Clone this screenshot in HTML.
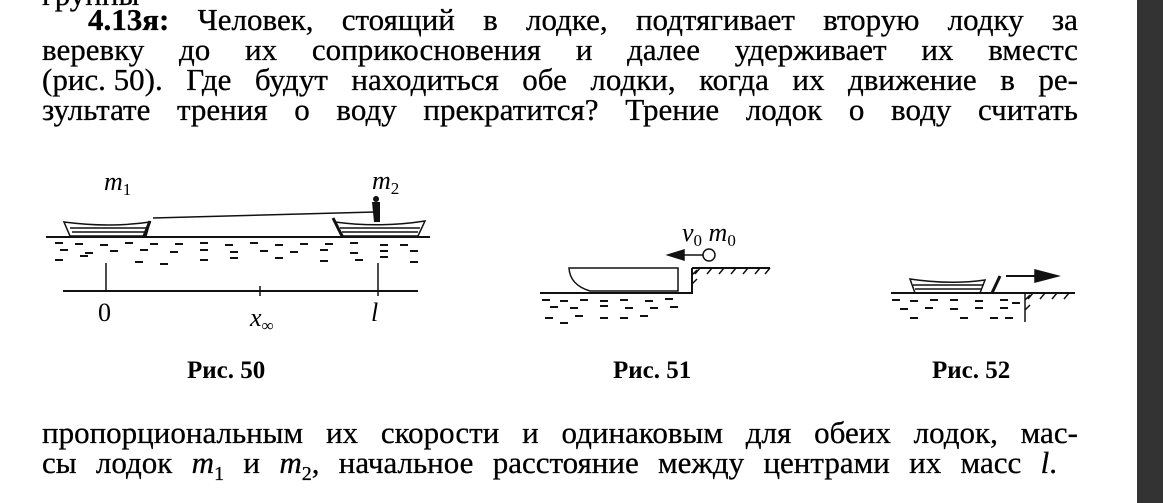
<!DOCTYPE html>
<html><head><meta charset="utf-8"><style>
body{margin:0;width:1163px;height:503px;background:#fff;position:relative;overflow:hidden;font-family:"Liberation Serif","DejaVu Serif",serif;color:#000}
.dark{position:absolute;left:1137px;top:0;width:26px;height:503px;background:#333}
.l{position:absolute;left:42px;width:1036px;font-size:31px;line-height:30px;white-space:nowrap;-webkit-text-stroke:0.3px #000}
.l span.j{display:flex;justify-content:space-between}
.cap{position:absolute;font-weight:bold;font-size:25px;font-family:"Liberation Serif",serif}
i{font-style:italic}
</style></head><body>
<div class="dark"></div>
<div class="l" style="top:-20px;left:42px;width:100px">группы</div>
<div class="l" style="top:5px;left:88px;width:990px"><span class="j"><b>4.13я:</b><span>Человек,</span><span>стоящий</span><span>в</span><span>лодке,</span><span>подтягивает</span><span>вторую</span><span>лодку</span><span>за</span></span></div>
<div class="l" style="top:35px"><span class="j"><span>веревку</span><span>до</span><span>их</span><span>соприкосновения</span><span>и</span><span>далее</span><span>удерживает</span><span>их</span><span>вместс</span></span></div>
<div class="l" style="top:65px"><span class="j"><span>(рис. 50).</span><span>Где</span><span>будут</span><span>находиться</span><span>обе</span><span>лодки,</span><span>когда</span><span>их</span><span>движение</span><span>в</span><span>ре-</span></span></div>
<div class="l" style="top:95px"><span class="j"><span>зультате</span><span>трения</span><span>о</span><span>воду</span><span>прекратится?</span><span>Трение</span><span>лодок</span><span>о</span><span>воду</span><span>считать</span></span></div>
<div class="l" style="top:418px"><span class="j"><span>пропорциональным</span><span>их</span><span>скорости</span><span>и</span><span>одинаковым</span><span>для</span><span>обеих</span><span>лодок,</span><span>мас-</span></span></div>
<div class="l" style="top:448px;width:1015px"><span class="j"><span>сы</span><span>лодок</span><span><i>m</i><sub style="font-size:20px">1</sub></span><span>и</span><span><i>m</i><sub style="font-size:20px">2</sub>,</span><span>начальное</span><span>расстояние</span><span>между</span><span>центрами</span><span>их</span><span>масс</span><span><i>l</i>.</span></span></div>
<div class="cap" style="left:187px;top:357px">Рис. 50</div>
<div class="cap" style="left:613px;top:357px">Рис. 51</div>
<div class="cap" style="left:932px;top:357px">Рис. 52</div>
<svg width="1163" height="503" style="position:absolute;left:0;top:0" font-family="Liberation Serif,serif">
<g stroke="#111" fill="none" stroke-width="1.5">
<line x1="46" y1="237" x2="430" y2="237" stroke-width="2"/>
<path d="M64 222 Q110 228 150 222 L146 236 L70 236 Z"/>
<path d="M70 228 L148 228 M72 232 L146 232"/>
<path d="M150 221 L144 236" stroke-width="3"/>
<path d="M153 218 L375 212"/>
<path d="M335 222 Q380 228 425 221 L418 236 L343 236 Z"/>
<path d="M340 228 L420 228 M342 232 L418 232"/>
<path d="M333 218 L342 236" stroke-width="3"/>
<line x1="63" y1="291" x2="418" y2="291" stroke-width="2"/>
<line x1="106" y1="263" x2="106" y2="291"/>
<line x1="260" y1="286" x2="260" y2="296"/>
<line x1="378" y1="263" x2="378" y2="296"/>
<g stroke-width="2">
<path d="M55 243h8M75 244h8M100 245h8M125 243h8M150 244h8M175 244h8M200 243h8M225 245h8M250 243h8M275 245h8M300 244h8M325 244h8M350 243h8M380 245h8M400 245h8M60 250h8M85 253h8M110 251h8M140 250h8M170 252h8M200 250h8M230 252h8M260 251h8M290 252h8M320 250h8M350 253h8M380 251h8M410 251h8M55 260h8M80 256h8M135 262h8M160 264h8M200 260h8M230 258h8M275 258h8M320 261h8M355 260h8M380 257h8M410 262h8"/>
</g>
<path d="M569 268 L678 268 L678 291 L590 291 Q570 285 569 268 Z"/>
<path d="M692 268 L692 293 L540 293" stroke-width="2"/>
<path d="M692 268 L770 268" stroke-width="2"/>
<path d="M700 268l-5 6M712 268l-5 6M724 268l-5 6M736 268l-5 6M748 268l-5 6M760 268l-5 6M770 268l-5 6M692 275l5-5M692 284l5-5"/>
<circle cx="709" cy="255" r="6"/>
<line x1="703" y1="255" x2="680" y2="255"/>
<path d="M668 255 L684 250 L684 260 Z" fill="#111"/>
<path d="M542 300h8M560 301h8M580 300h8M600 301h8M620 300h8M645 301h8M665 299h8M550 307h8M570 308h8M600 306h8M625 308h8M650 308h8M670 307h8M545 318h8M575 316h8M600 318h8M620 318h8M640 316h8M560 323h8" stroke-width="2"/>
<line x1="891" y1="293" x2="1075" y2="293" stroke-width="2"/>
<path d="M910 279 Q950 285 985 280 L980 293 L915 293 Z"/>
<path d="M913 285 L983 285 M915 289 L981 289"/>
<path d="M1000 276 L992 293" stroke-width="3"/>
<path d="M1025 293 L1025 322"/>
<path d="M1033 293l-5 6M1045 293l-5 6M1057 293l-5 6M1069 293l-5 6M1025 300l5-5M1025 310l5-5"/>
<line x1="1006" y1="276" x2="1040" y2="276" stroke-width="2"/>
<path d="M1058 276 L1035 270 L1035 282 Z" fill="#111"/>
<path d="M892 300h8M910 301h8M930 300h8M950 300h8M975 301h8M1000 300h8M1012 303h8M900 309h8M925 308h8M950 309h8M975 308h8M1000 308h8M910 318h8M960 318h8M990 318h8M1005 318h8" stroke-width="2"/>
</g>
<path d="M376 196 a3 3 0 1 0 0.1 0 Z M372 202 h8 v20 h-6 Z" fill="#111"/>
<g fill="#000" font-style="italic" font-size="26">
<text x="104" y="190">m<tspan font-size="17" dy="5" font-style="normal">1</tspan></text>
<text x="372" y="189">m<tspan font-size="17" dy="5" font-style="normal">2</tspan></text>
<text x="98" y="321" font-style="normal">0</text>
<text x="250" y="326">x<tspan font-size="17" dy="5" font-style="normal">∞</tspan></text>
<text x="371" y="321">l</text>
<text x="682" y="241">v<tspan font-size="17" dy="5" font-style="normal">0</tspan><tspan dy="-5"> m</tspan><tspan font-size="17" dy="5" font-style="normal">0</tspan></text>
</g>
</svg>
</body></html>
